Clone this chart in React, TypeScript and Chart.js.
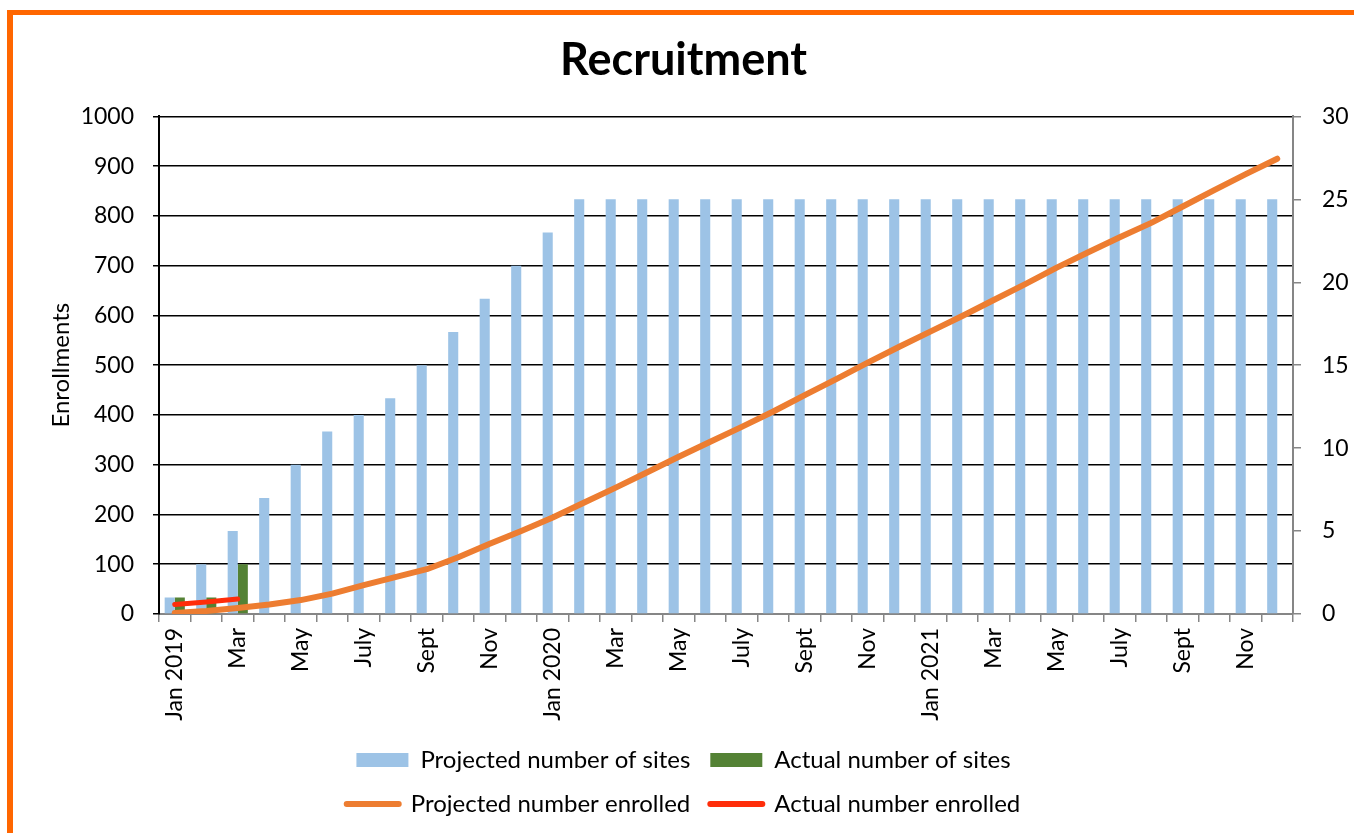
import React, { useEffect, useRef } from 'react';
import { Chart, registerables } from 'chart.js';

Chart.register(...registerables);

const categories = [
  'Jan 2019', 'Feb', 'Mar', 'Apr', 'May', 'June', 'July', 'Aug', 'Sept', 'Oct', 'Nov', 'Dec',
  'Jan 2020', 'Feb', 'Mar', 'Apr', 'May', 'June', 'July', 'Aug', 'Sept', 'Oct', 'Nov', 'Dec',
  'Jan 2021', 'Feb', 'Mar', 'Apr', 'May', 'June', 'July', 'Aug', 'Sept', 'Oct', 'Nov', 'Dec',
];

const projectedSites = [
  1, 3, 5, 7, 9, 11, 12, 13, 15, 17, 19, 21,
  23, 25, 25, 25, 25, 25, 25, 25, 25, 25, 25, 25,
  25, 25, 25, 25, 25, 25, 25, 25, 25, 25, 25, 25,
];

const actualSites = [1, 1, 3];

const projectedEnrolled = [
  2, 6, 12, 19, 28, 41, 58, 74, 90, 114, 141, 167,
  194, 224, 254, 285, 316, 346, 376, 407, 440, 472, 505, 537,
  568, 599, 631, 663, 696, 727, 757, 786, 819, 852, 884, 915,
];

const actualEnrolled = [19, 24, 30];

const seriesNames = [
  'Projected number of sites',
  'Actual number of sites',
  'Projected number enrolled',
  'Actual number enrolled',
];

const GREY = '#868686';

const legendRows = {
  id: 'legendRows',
  beforeLayout(chart: any) {
    const lg = chart.legend;
    if (lg && !lg.__wrapped) {
      const orig = lg.update.bind(lg);
      lg.update = (maxWidth: number, maxHeight: number, margins: any) =>
        orig(Math.min(maxWidth, 760), maxHeight, margins);
      lg.__wrapped = true;
    }
  },
};

export default function App() {
  const ref = useRef<HTMLCanvasElement | null>(null);

  useEffect(() => {
    if (!ref.current) return;
    Chart.defaults.font.family = 'Lato, "Open Sans", sans-serif';
    Chart.defaults.color = '#000';

    const chart = new Chart(ref.current, {
      type: 'bar',
      data: {
        labels: categories,
        datasets: [
          {
            type: 'bar',
            label: seriesNames[0],
            data: projectedSites,
            yAxisID: 'y1',
            backgroundColor: '#9DC3E6',
            borderWidth: 0,
            categoryPercentage: 0.64,
            barPercentage: 1.0,
            order: 2,
          },
          {
            type: 'bar',
            label: seriesNames[1],
            data: actualSites,
            yAxisID: 'y1',
            backgroundColor: '#548235',
            borderWidth: 0,
            categoryPercentage: 0.64,
            barPercentage: 1.0,
            order: 3,
          },
          {
            type: 'line',
            label: seriesNames[2],
            data: projectedEnrolled,
            yAxisID: 'y',
            borderColor: '#ED7D31',
            backgroundColor: '#ED7D31',
            borderWidth: 6,
            borderCapStyle: 'round',
            borderJoinStyle: 'round',
            pointRadius: 0,
            tension: 0,
            order: 1,
          },
          {
            type: 'line',
            label: seriesNames[3],
            data: actualEnrolled,
            yAxisID: 'y',
            borderColor: '#FF2D0A',
            backgroundColor: '#FF2D0A',
            borderWidth: 5,
            borderCapStyle: 'round',
            borderJoinStyle: 'round',
            pointRadius: 0,
            tension: 0,
            order: 0,
          },
        ] as any,
      },
      options: {
        animation: false,
        responsive: false,
        layout: { padding: { left: 0, right: 0, top: 0, bottom: 7 } },
        plugins: {
          tooltip: { enabled: false },
          title: {
            display: true,
            text: 'Recruitment',
            color: '#000',
            font: { size: 45, weight: 'bold' },
            padding: { top: 18, bottom: 29.4 },
          },
          legend: {
            position: 'bottom',
            labels: {
              usePointStyle: true,
              pointStyleWidth: 52,
              boxHeight: 14,
              padding: 20,
              color: '#000',
              font: { size: 24 },
              sort: (a: any, b: any) => a.datasetIndex - b.datasetIndex,
              generateLabels(c: any) {
                const items = (Chart.defaults.plugins.legend.labels as any).generateLabels(c);
                return items.map((it: any) => {
                  const ds: any = c.data.datasets[it.datasetIndex];
                  if (ds.type === 'line') {
                    return {
                      ...it,
                      pointStyle: 'line',
                      strokeStyle: ds.borderColor,
                      fillStyle: ds.borderColor,
                      lineWidth: 6,
                      lineCap: 'round',
                    };
                  }
                  return {
                    ...it,
                    pointStyle: 'rect',
                    fillStyle: ds.backgroundColor,
                    strokeStyle: ds.backgroundColor,
                    lineWidth: 0,
                  };
                });
              },
            },
          },
        },
        scales: {
          x: {
            afterFit(scale: any) {
              scale.height = 114;
            },
            grid: {
              drawOnChartArea: false,
              drawTicks: true,
              tickLength: 8,
              color: GREY,
              lineWidth: 1.5,
              offset: true,
            },
            border: { color: GREY, width: 2 },
            ticks: {
              autoSkip: false,
              maxRotation: 90,
              minRotation: 90,
              padding: 6,
              font: { size: 23 },
              color: '#000',
              callback: (_v: any, i: number) => (i % 2 === 0 ? categories[i] : ''),
            },
          },
          y: {
            position: 'left',
            min: 0,
            max: 1000,
            afterFit(scale: any) {
              scale.width = 146;
            },
            ticks: {
              stepSize: 100,
              padding: 19,
              font: { size: 23 },
              color: '#000',
              callback: (v: any) => String(v),
            },
            grid: {
              color: (ctx: any) => (ctx.tick && ctx.tick.value === 0 ? GREY : '#000'),
              lineWidth: 1.5,
              tickLength: 6,
              tickColor: '#000',
            },
            border: { color: '#000', width: 2 },
            title: {
              display: true,
              text: 'Enrollments',
              color: '#000',
              font: { size: 24 },
              padding: { top: 34, bottom: 0 },
            },
          },
          y1: {
            position: 'right',
            min: 0,
            max: 30,
            afterFit(scale: any) {
              scale.width = 61;
            },
            ticks: { stepSize: 5, padding: 21, font: { size: 23 }, color: '#000' },
            grid: {
              drawOnChartArea: false,
              tickLength: 8,
              color: GREY,
              lineWidth: 1.5,
            },
            border: { color: GREY, width: 2 },
          },
        },
      } as any,
      plugins: [legendRows as any],
    });

    return () => chart.destroy();
  }, []);

  return (
    <div
      style={{
        position: 'absolute',
        left: 7,
        top: 10,
        width: 1347,
        height: 823,
        boxSizing: 'border-box',
        borderTop: '5px solid #FF6600',
        borderLeft: '6px solid #FF6600',
        overflow: 'hidden',
        background: '#fff',
      }}
    >
      <canvas ref={ref} width={1341} height={818} style={{ display: 'block', width: 1341, height: 818 }} />
    </div>
  );
}
